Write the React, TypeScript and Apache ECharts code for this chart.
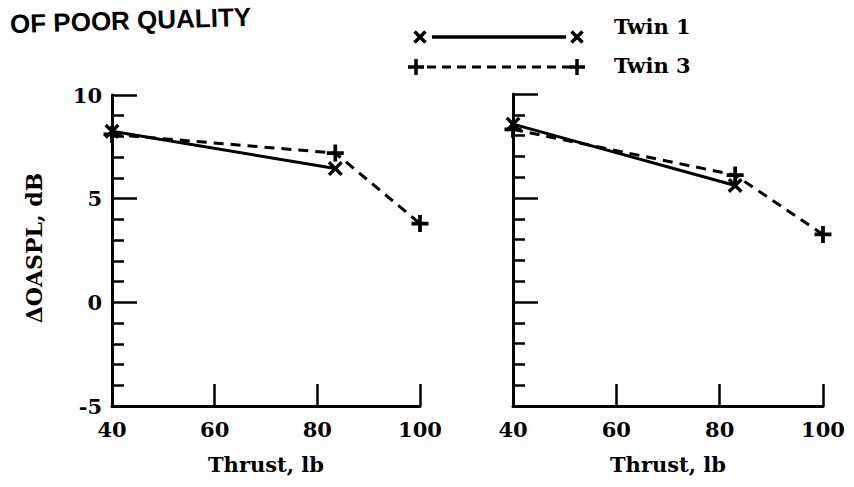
import React, { useEffect, useRef } from "react";
import * as echarts from "echarts";

// ---- data ----
const xTickValues = [40, 60, 80, 100];
const yTickValues = [-5, 0, 5, 10];

const thrustTwin1Left = [40, 83.5];
const dOasplTwin1Left = [8.25, 6.45];
const thrustTwin3Left = [40, 83.5, 100];
const dOasplTwin3Left = [8.1, 7.2, 3.8];

const thrustTwin1Right = [40, 83];
const dOasplTwin1Right = [8.55, 5.6];
const thrustTwin3Right = [40, 83, 100];
const dOasplTwin3Right = [8.3, 6.1, 3.25];

const seriesNames = ["Twin 1", "Twin 3"];
const titleText = "OF POOR QUALITY";
const xAxisName = "Thrust, lb";
const yAxisName = "ΔOASPL, dB";

const SERIF = "DejaVu Serif";
const INK = "#000";

const X_SYMBOL =
  "path://M0,1.6L1.6,0L5,3.4L8.4,0L10,1.6L6.6,5L10,8.4L8.4,10L5,6.6L1.6,10L0,8.4L3.4,5Z";
const PLUS_SYMBOL =
  "path://M3.9,0H6.1V3.9H10V6.1H6.1V10H3.9V6.1H0V3.9H3.9Z";

const pairs = (xs: number[], ys: number[]) => xs.map((x, i) => [x, ys[i]]);

function makeXAxis(gridIndex: number) {
  return {
    type: "value",
    gridIndex,
    min: xTickValues[0],
    max: xTickValues[xTickValues.length - 1],
    interval: xTickValues[1] - xTickValues[0],
    splitLine: { show: false },
    axisLine: { show: true, onZero: false, lineStyle: { color: INK, width: 3 } },
    axisTick: { show: true, inside: true, length: 22, lineStyle: { color: INK, width: 2.5 } },
    axisLabel: {
      color: INK,
      fontFamily: SERIF,
      fontWeight: "bold",
      fontSize: 21,
      margin: 13,
    },
    name: xAxisName,
    nameLocation: "middle",
    nameGap: 48,
    nameTextStyle: { color: INK, fontFamily: SERIF, fontWeight: "bold", fontSize: 21 },
  };
}

function makeYAxis(gridIndex: number, showLabels: boolean) {
  return {
    type: "value",
    gridIndex,
    min: yTickValues[0],
    max: yTickValues[yTickValues.length - 1],
    interval: yTickValues[1] - yTickValues[0],
    splitLine: { show: false },
    axisLine: { show: true, onZero: false, lineStyle: { color: INK, width: 3 } },
    axisTick: { show: true, inside: true, length: 25, lineStyle: { color: INK, width: 2.5 } },
    minorTick: { show: true, splitNumber: 5, length: 12, lineStyle: { color: INK, width: 2.5 } },
    minorSplitLine: { show: false },
    axisLabel: {
      show: showLabels,
      color: INK,
      fontFamily: SERIF,
      fontWeight: "bold",
      fontSize: 21,
      margin: 10,
    },
  };
}

function makeLine(
  name: string,
  axisIndex: number,
  xs: number[],
  ys: number[],
  dashed: boolean
) {
  return {
    type: "line",
    name,
    xAxisIndex: axisIndex,
    yAxisIndex: axisIndex,
    data: pairs(xs, ys),
    symbol: dashed ? PLUS_SYMBOL : X_SYMBOL,
    symbolSize: dashed ? 17 : 15,
    showSymbol: true,
    itemStyle: { color: INK },
    lineStyle: { color: INK, width: 3, type: dashed ? [10, 7] : "solid" },
    z: dashed ? 3 : 4,
  };
}

export default function App() {
  const ref = useRef<HTMLDivElement>(null);

  useEffect(() => {
    if (!ref.current) return;
    const chart = echarts.init(ref.current, undefined, { renderer: "svg" });

    const xMark = (cx: number, cy: number, r: number) => [
      { type: "line", shape: { x1: cx - r, y1: cy - r, x2: cx + r, y2: cy + r }, style: { stroke: INK, lineWidth: 3.5 } },
      { type: "line", shape: { x1: cx + r, y1: cy - r, x2: cx - r, y2: cy + r }, style: { stroke: INK, lineWidth: 3.5 } },
    ];
    const plusMark = (cx: number, cy: number, r: number) => [
      { type: "line", shape: { x1: cx - r, y1: cy, x2: cx + r, y2: cy }, style: { stroke: INK, lineWidth: 3.5 } },
      { type: "line", shape: { x1: cx, y1: cy - r, x2: cx, y2: cy + r }, style: { stroke: INK, lineWidth: 3.5 } },
    ];

    const legendGraphics = [
      // Twin 1 row
      ...xMark(420, 37, 5.5),
      { type: "line", shape: { x1: 432, y1: 37, x2: 566, y2: 37 }, style: { stroke: INK, lineWidth: 3.5 } },
      ...xMark(577, 37, 5.5),
      {
        type: "text",
        x: 614,
        y: 26,
        style: {
          text: seriesNames[0],
          fill: INK,
          font: `bold 21px "${SERIF}"`,
          align: "left",
          verticalAlign: "middle",
        },
      },
      // Twin 3 row
      ...plusMark(416, 67, 8),
      {
        type: "line",
        shape: { x1: 427, y1: 67, x2: 569, y2: 67 },
        style: { stroke: INK, lineWidth: 3, lineDash: [9, 6] },
      },
      ...plusMark(577, 67, 8),
      {
        type: "text",
        x: 614,
        y: 65,
        style: {
          text: seriesNames[1],
          fill: INK,
          font: `bold 21px "${SERIF}"`,
          align: "left",
          verticalAlign: "middle",
        },
      },
    ];

    chart.setOption({
      animation: false,
      backgroundColor: "#fff",
      grid: [
        { left: 112, top: 95, width: 308, height: 311 },
        { left: 513, top: 94, width: 310, height: 312 },
      ],
      xAxis: [makeXAxis(0), makeXAxis(1)],
      yAxis: [makeYAxis(0, true), makeYAxis(1, false)],
      series: [
        makeLine(seriesNames[0], 0, thrustTwin1Left, dOasplTwin1Left, false),
        makeLine(seriesNames[1], 0, thrustTwin3Left, dOasplTwin3Left, true),
        makeLine(seriesNames[0], 1, thrustTwin1Right, dOasplTwin1Right, false),
        makeLine(seriesNames[1], 1, thrustTwin3Right, dOasplTwin3Right, true),
      ],
      graphic: [
        {
          type: "text",
          x: 10,
          y: 24,
          rotation: 0.03,
          style: {
            text: titleText,
            fill: INK,
            font: 'bold 26px "Liberation Sans"',
            align: "left",
            verticalAlign: "middle",
          },
        },
        {
          type: "text",
          x: 34,
          y: 248,
          rotation: Math.PI / 2,
          style: {
            text: yAxisName,
            fill: INK,
            font: `bold 22px "${SERIF}"`,
            align: "center",
            verticalAlign: "middle",
          },
        },
        ...legendGraphics,
      ],
    });

    return () => chart.dispose();
  }, []);

  return (
    <div
      ref={ref}
      style={{ position: "fixed", left: 0, top: 0, width: 854, height: 487, background: "#fff" }}
    />
  );
}
